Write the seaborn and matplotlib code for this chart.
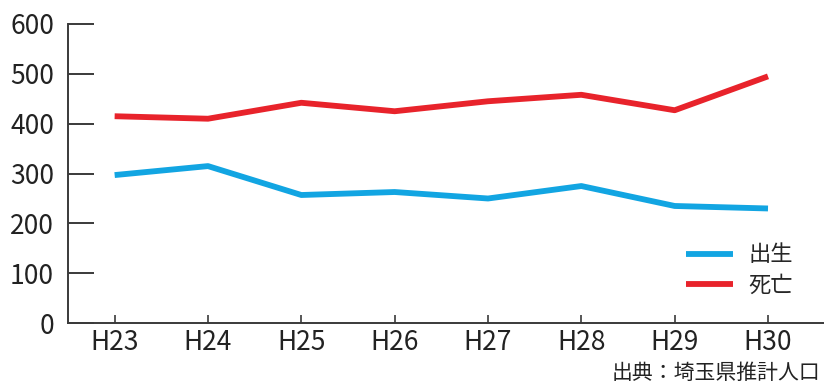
import matplotlib
matplotlib.use("Agg")
import matplotlib.pyplot as plt
import seaborn as sns
import pandas as pd

years = ["H23", "H24", "H25", "H26", "H27", "H28", "H29", "H30"]
births = [297, 315, 257, 263, 250, 275, 235, 230]
deaths = [415, 410, 442, 425, 445, 458, 427, 495]
series_names = ["出生", "死亡"]
source_note = "出典：埼玉県推計人口"

sns.set_theme(style="white")
plt.rcParams["font.family"] = ["Noto Sans CJK JP", "DejaVu Sans"]

df = pd.DataFrame({
    "year": years * 2,
    "x": list(range(len(years))) * 2,
    "value": births + deaths,
    "series": [series_names[0]] * len(years) + [series_names[1]] * len(years),
})

fig = plt.figure(figsize=(8.24, 3.87), dpi=100)
ax = fig.add_axes([0.0825, 0.165, 0.9175, 0.773])

palette = {series_names[0]: "#12a5e2", series_names[1]: "#e8232b"}
sns.lineplot(data=df, x="x", y="value", hue="series", palette=palette,
             linewidth=4.2, ax=ax, legend=True, solid_capstyle="butt")

ax.set_xlim(-0.5, 7.6)
ax.set_ylim(0, 600)
ax.set_xticks(range(len(years)))
ax.set_xticklabels(years)
ax.set_yticks(range(0, 601, 100))
ax.set_xlabel("")
ax.set_ylabel("")

for side in ["top", "right"]:
    ax.spines[side].set_visible(False)
for side in ["left", "bottom"]:
    ax.spines[side].set_color("#3a3a3a")
    ax.spines[side].set_linewidth(1.4)

ax.tick_params(axis="y", direction="in", length=19, width=1.4, color="#3a3a3a",
               labelsize=19, labelcolor="#222222", pad=10)
ax.tick_params(axis="x", direction="in", length=6, width=1.2, color="#3a3a3a",
               labelsize=19, labelcolor="#222222", pad=4)
ax.tick_params(left=True, bottom=True)

leg = ax.legend(loc="lower right", bbox_to_anchor=(0.985, 0.02), frameon=False,
                fontsize=16, handlelength=2.1, handletextpad=0.7, labelspacing=0.35)
for line in leg.get_lines():
    line.set_linewidth(4.2)

fig.text(0.995, 0.035, source_note, ha="right", va="center", fontsize=15,
         color="#222222")

fig.savefig("out.png", dpi=100)
